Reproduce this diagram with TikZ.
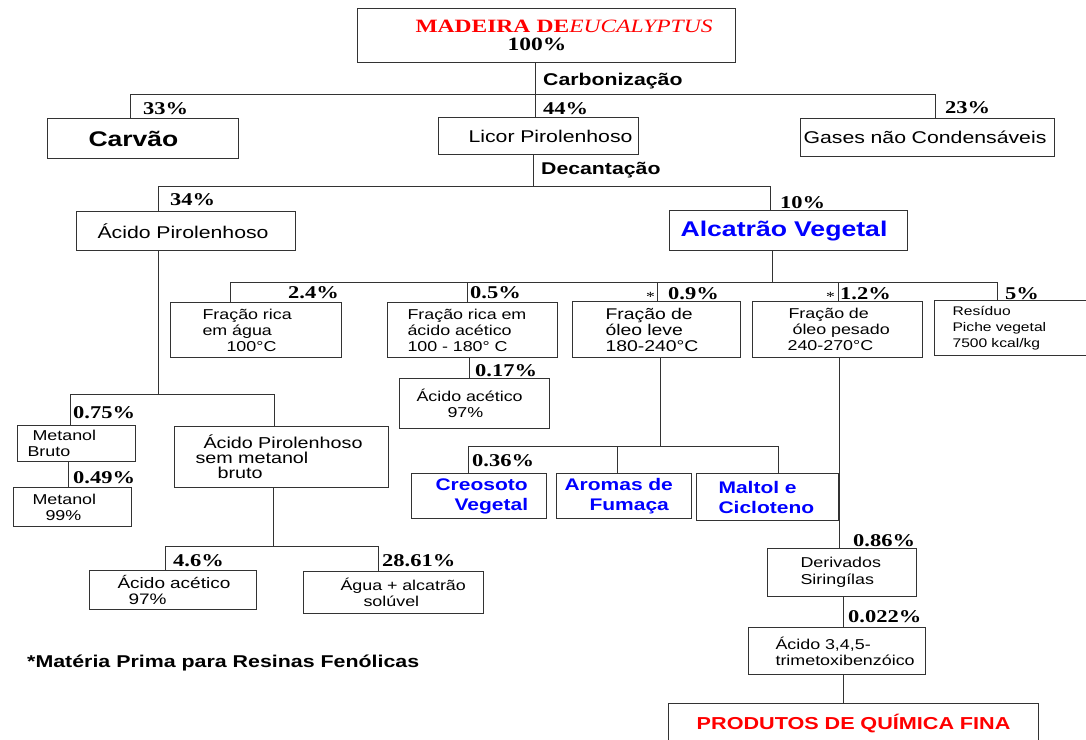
\documentclass[tikz,border=0pt]{standalone}
\usepackage{fontspec}
\setmainfont{Liberation Sans}[FakeStretch=1.25]
\newfontfamily\pctfont{Liberation Serif}[FakeStretch=1.25]
\usetikzlibrary{positioning,calc}

\definecolor{lineg}{gray}{0.2}
\newcommand\bigtxt{\fontsize{17}{20}\selectfont}
\newcommand\boxtxt{\fontsize{14.3}{16}\selectfont}
\newcommand\pcttxt{\pctfont\bfseries\fontsize{18}{18}\selectfont}

\tikzset{
  box/.style={draw=lineg, line width=1.1pt, inner sep=0pt, anchor=north west, align=left, font=\boxtxt},
  pct/.style={font=\pcttxt, inner sep=0pt, anchor=west},
  star/.style={font=\pctfont\fontsize{14}{14}\selectfont, inner sep=0pt, anchor=east},
  proc/.style={font=\bfseries\fontsize{17}{17}\selectfont, inner sep=0pt, anchor=west},
  link/.style={draw=lineg, line width=1pt},
  prod/.style={text=blue, font=\bfseries\fontsize{16.8}{20}\selectfont},
}

\begin{document}
\begin{tikzpicture}[x=1pt,y=-1pt]
\useasboundingbox (0,0) rectangle (1086,739);

% wood and carbonization
\node[box, text width=378pt, minimum height=54pt, font=\pctfont\fontsize{18.8}{18}\selectfont] (madeira) at (357,8)
  {\hspace*{58pt}{\color{red}\bfseries MADEIRA DE}{\color{red}\itshape EUCALYPTUS}\\\hspace*{150pt}{\bfseries 100\%}};
\node[box, text width=191pt, minimum height=40pt, font=\bfseries\fontsize{21.2}{24}\selectfont] (carvao) at (47,118) {\hspace*{41pt}Carvão};
\node[box, text width=200pt, minimum height=37pt, font=\bigtxt] (licor) at (438,117) {\hspace*{30pt}Licor Pirolenhoso};
\node[box, text width=254pt, minimum height=38pt, font=\bigtxt] (gases) at (800,118) {\hspace*{3pt}Gases não Condensáveis};

% decantation
\node[box, text width=219pt, minimum height=39pt, font=\bigtxt] (acidopir) at (76,211) {\hspace*{21pt}Ácido Pirolenhoso};
\node[box, text width=238pt, minimum height=40pt, text=blue, font=\bfseries\fontsize{21.3}{24}\selectfont] (alcatrao) at (669,210) {\hspace*{11pt}Alcatrão Vegetal};

% tar fractions
\node[box, text width=171pt, minimum height=55pt] (agua) at (170,302) {\hspace*{32pt}Fração rica\\\hspace*{32pt}em água\\\hspace*{56pt}100°C};
\node[box, text width=170pt, minimum height=55pt] (acetico) at (387,302) {\hspace*{20pt}Fração rica em\\\hspace*{20pt}ácido acético\\\hspace*{20pt}100 - 180° C};
\node[box, text width=168pt, minimum height=56pt, font=\fontsize{15.5}{16}\selectfont] (leve) at (572,301) {\hspace*{33pt}Fração de\\\hspace*{33pt}óleo leve\\\hspace*{33pt}180-240°C};
\node[box, text width=170pt, minimum height=56pt] (pesado) at (752,301) {\hspace*{36pt}Fração de\\\hspace*{40pt}óleo pesado\\\hspace*{35pt}240-270°C};
\node[box, text width=160pt, minimum height=55pt, font=\fontsize{12.5}{16}\selectfont] (residuo) at (934,300) {\hspace*{18pt}Resíduo\\\hspace*{18pt}Piche vegetal\\\hspace*{18pt}7500 kcal/kg};
\node[box, text width=150pt, minimum height=50pt] (acac1) at (399,378) {\hspace*{17pt}Ácido acético\\\hspace*{48pt}97\%};

% products of the light oil
\node[box, prod, text width=135pt, minimum height=45pt] (creosoto) at (411,473) {\hspace*{24pt}Creosoto\\\hspace*{43pt}Vegetal};
\node[box, prod, text width=135pt, minimum height=45pt] (aromas) at (556,473) {\hspace*{8pt}Aromas de\\\hspace*{33pt}Fumaça};
\node[box, prod, text width=142pt, minimum height=47pt] (maltol) at (696,473) {\hspace*{22pt}Maltol e\\\hspace*{22pt}Cicloteno};

% pyroligneous acid
\node[box, text width=118pt, minimum height=36pt] (metbruto) at (17,425) {\hspace*{15pt}Metanol\\\hspace*{10pt}Bruto};
\node[box, text width=118pt, minimum height=39pt] (metanol) at (13,487) {\hspace*{19pt}Metanol\\\hspace*{32pt}99\%};
\node[box, text width=214pt, minimum height=61pt, font=\fontsize{15.8}{15}\selectfont] (semmet) at (174,426) {\hspace*{29pt}Ácido Pirolenhoso\\\hspace*{21pt}sem metanol\\\hspace*{43pt}bruto};
\node[box, text width=167pt, minimum height=39pt, font=\fontsize{15.2}{16}\selectfont] (acac2) at (89,570) {\hspace*{28pt}Ácido acético\\\hspace*{39pt}97\%};
\node[box, text width=180pt, minimum height=42pt] (aguasol) at (303,571) {\hspace*{37pt}Água + alcatrão\\\hspace*{60pt}solúvel};

% heavy oil
\node[box, text width=149pt, minimum height=48pt, font=\fontsize{14.3}{17}\selectfont] (deriv) at (767,548) {\hspace*{33pt}Derivados\\\hspace*{33pt}Siringílas};
\node[box, text width=177pt, minimum height=47pt] (trimet) at (748,627) {\hspace*{27pt}Ácido 3,4,5-\\\hspace*{27pt}trimetoxibenzóico};
\node[box, text width=370pt, minimum height=40pt, align=center, text=red, font=\bfseries\fontsize{17.3}{20}\selectfont] (quimica) at (668,703) {PRODUTOS DE QUÍMICA FINA};

% process names and footnote
\node[proc] (carb) at (543,81) {Carbonização};
\node[proc] (decant) at (541,170) {Decantação};
\node[proc, font=\bfseries\fontsize{17.1}{17}\selectfont] (nota) at (27,663) {*Matéria Prima para Resinas Fenólicas};

% yields
\node[pct] (p33) at (143,109) {33\%};
\node[pct] (p44) at (543,109) {44\%};
\node[pct] (p23) at (945,108) {23\%};
\node[pct] (p34) at (170,200) {34\%};
\node[pct] (p10) at (780,203) {10\%};
\node[pct] (p24) at (288,293) {2.4\%};
\node[pct] (p05) at (470,293) {0.5\%};
\node[pct] (p09) at (668,294) {0.9\%};
\node[pct] (p12) at (840,294) {1.2\%};
\node[pct] (p5) at (1005,294) {5\%};
\node[star] (ast1) at (655,297) {*};
\node[star] (ast2) at (835,297) {*};
\node[pct] (p017) at (475,371) {0.17\%};
\node[pct] (p036) at (472,461) {0.36\%};
\node[pct] (p075) at (73,413) {0.75\%};
\node[pct] (p049) at (73,478) {0.49\%};
\node[pct] (p46) at (173,561) {4.6\%};
\node[pct] (p2861) at (382,561) {28.61\%};
\node[pct] (p086) at (853,541) {0.86\%};
\node[pct] (p0022) at (848,617) {0.022\%};

% junctions
\coordinate (c1) at (535,94);
\coordinate (c1l) at (130,94);
\coordinate (c1r) at (935,94);
\coordinate (d1) at (533,186);
\coordinate (d1l) at (158,186);
\coordinate (d1r) at (770,186);
\coordinate (a1) at (158,394);
\coordinate (a1l) at (70,394);
\coordinate (a1r) at (274,394);
\coordinate (m1) at (68,470);
\coordinate (s1) at (273,546);
\coordinate (s1l) at (165,546);
\coordinate (s1r) at (378,546);
\coordinate (t1) at (772,282);
\coordinate (t1a) at (230,282);
\coordinate (t1b) at (467,282);
\coordinate (t1c) at (657,282);
\coordinate (t1d) at (838,282);
\coordinate (t1e) at (997,282);
\coordinate (e1) at (469,367);
\coordinate (l1) at (660,446);
\coordinate (l1a) at (468,446);
\coordinate (l1b) at (617,446);
\coordinate (l1c) at (778,446);
\coordinate (h1) at (839,450);
\coordinate (h2) at (843,650);

% connectors
\draw[link] (c1 |- madeira.south) -- (c1 |- licor.north);
\draw[link] (c1l |- carvao.north) -- (c1l) -- (c1r) -- (c1r |- gases.north);
\draw[link] (d1 |- licor.south) -- (d1);
\draw[link] (d1l |- acidopir.north) -- (d1l) -- (d1r) -- (d1r |- alcatrao.north);
\draw[link] (a1 |- acidopir.south) -- (a1);
\draw[link] (a1l |- metbruto.north) -- (a1l) -- (a1r) -- (a1r |- semmet.north);
\draw[link] (m1 |- metbruto.south) -- (m1 |- metanol.north);
\draw[link] (s1 |- semmet.south) -- (s1);
\draw[link] (s1l |- acac2.north) -- (s1l) -- (s1r) -- (s1r |- aguasol.north);
\draw[link] (t1 |- alcatrao.south) -- (t1);
\draw[link] (t1a) -- (t1e);
\foreach \j/\b in {t1a/agua, t1b/acetico, t1c/leve, t1d/pesado, t1e/residuo}
  \draw[link] (\j) -- (\j |- \b.north);
\draw[link] (e1 |- acetico.south) -- (e1 |- acac1.north);
\draw[link] (l1 |- leve.south) -- (l1);
\draw[link] (l1a) -- (l1c);
\foreach \j/\b in {l1a/creosoto, l1b/aromas, l1c/maltol}
  \draw[link] (\j) -- (\j |- \b.north);
\draw[link] (h1 |- pesado.south) -- (h1 |- deriv.north);
\draw[link] (h2 |- deriv.south) -- (h2 |- trimet.north);
\draw[link] (h2 |- trimet.south) -- (h2 |- quimica.north);
\end{tikzpicture}
\end{document}
